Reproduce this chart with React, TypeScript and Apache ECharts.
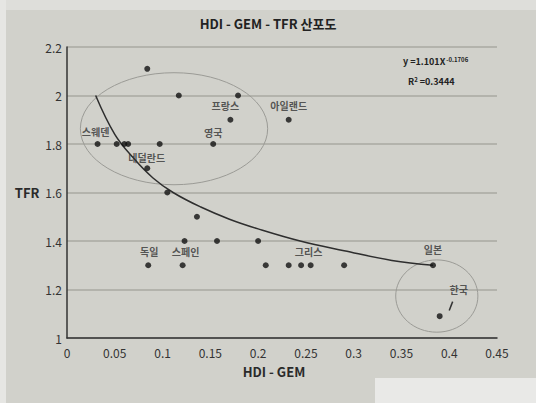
import React, { useEffect, useRef } from 'react';
import * as echarts from 'echarts';

// Scatter data: HDI - GEM (x) vs TFR (y)
const hdiGem = [0.084, 0.117, 0.179, 0.171, 0.232, 0.032, 0.052, 0.060, 0.064, 0.097, 0.153, 0.084, 0.105, 0.136, 0.123, 0.157, 0.200, 0.085, 0.121, 0.208, 0.232, 0.245, 0.255, 0.290, 0.383, 0.390];
const tfr = [2.11, 2.0, 2.0, 1.9, 1.9, 1.8, 1.8, 1.8, 1.8, 1.8, 1.8, 1.7, 1.6, 1.5, 1.4, 1.4, 1.4, 1.3, 1.3, 1.3, 1.3, 1.3, 1.3, 1.3, 1.3, 1.09];
const countryNames = ['', '', '', '프랑스', '아일랜드', '스웨덴', '', '', '', '네덜란드', '영국', '', '', '', '', '', '', '독일', '스페인', '', '', '', '그리스', '', '일본', '한국'];

// Trend curve
const trendX = [0.03, 0.05, 0.07, 0.09, 0.111, 0.14, 0.17, 0.2, 0.244, 0.29, 0.34, 0.383];
const trendY = [2.0, 1.84, 1.74, 1.66, 1.6, 1.54, 1.49, 1.45, 1.4, 1.36, 1.32, 1.3];

// Annotation ellipses (data coordinates): center x, center y, radius x, radius y
const ellipseCx = [0.112, 0.387];
const ellipseCy = [1.863, 1.173];
const ellipseRx = [0.098, 0.043];
const ellipseRy = [0.231, 0.149];

// Axis ticks
const xMin = 0, xMax = 0.45, xStep = 0.05;
const yMin = 1, yMax = 2.2, yStep = 0.2;

const titleText = 'HDI - GEM - TFR 산포도';
const xName = 'HDI - GEM';
const yName = 'TFR';
const eqCoef = '1.101';
const eqExp = '-0.1706';
const rSquared = '0.3444';

const labelOffsets: Record<string, number[]> = {
  '프랑스': [-5, -14],
  '아일랜드': [0, -14],
  '스웨덴': [-2, -13],
  '네덜란드': [-13, 13],
  '영국': [0, -12],
  '독일': [1, -14],
  '스페인': [3, -14],
  '그리스': [-2, -14],
  '일본': [0, -16],
  '한국': [19, -27],
};

const FONT = '"Noto Sans CJK KR", "Noto Sans", sans-serif';

export default function App() {
  const ref = useRef<HTMLDivElement>(null);
  useEffect(() => {
    document.body.style.margin = '0';
    const chart = echarts.init(ref.current!, null, { renderer: 'svg' });
    const points = hdiGem.map((x, i) => {
      const name = countryNames[i];
      const item: any = { value: [x, tfr[i]] };
      if (name) {
        item.label = {
          show: true,
          formatter: name,
          position: 'inside',
          offset: labelOffsets[name] || [0, -14],
          color: '#333',
          fontSize: 10,
          fontWeight: 'bold',
          fontFamily: FONT,
        };
      }
      return item;
    });
    const option: any = {
      animation: false,
      backgroundColor: '#d1d1cb',
      title: {
        text: titleText,
        left: 'center',
        top: 17,
        padding: [0, 8, 0, 0],
        textStyle: { fontSize: 13, fontWeight: 'bold', color: '#222', fontFamily: FONT },
      },
      grid: { left: 67, right: 39, top: 47, bottom: 65, containLabel: false },
      xAxis: {
        type: 'value',
        min: xMin,
        max: xMax,
        interval: xStep,
        name: xName,
        nameLocation: 'middle',
        nameGap: 27,
        nameTextStyle: { fontSize: 13, fontWeight: 'bold', color: '#2a2a2a', fontFamily: FONT, padding: [0, 16, 0, 0] },
        axisLine: { show: true, lineStyle: { color: '#333', width: 1.5 } },
        axisTick: { show: false },
        axisLabel: { fontSize: 12, color: '#333', margin: 8, fontFamily: FONT },
        splitLine: { show: false },
      },
      yAxis: {
        type: 'value',
        min: yMin,
        max: yMax,
        interval: yStep,
        name: yName,
        nameLocation: 'middle',
        nameRotate: 0,
        nameGap: 25,
        nameTextStyle: { fontSize: 13, fontWeight: 'bold', color: '#2a2a2a', fontFamily: FONT },
        axisLine: { show: true, lineStyle: { color: '#333', width: 1.5 } },
        axisTick: { show: false },
        axisLabel: { fontSize: 12, color: '#333', margin: 5, fontFamily: FONT },
        splitLine: { show: true, lineStyle: { color: '#a8a8a2', width: 1.5 } },
      },
      series: [
        {
          type: 'line',
          data: trendX.map((x, i) => [x, trendY[i]]),
          smooth: 0.4,
          showSymbol: false,
          symbol: 'none',
          lineStyle: { color: '#2e2e2e', width: 1.5 },
          z: 2,
          silent: true,
        },
        {
          type: 'scatter',
          data: points,
          symbolSize: 6,
          itemStyle: { color: '#111' },
          z: 3,
        },
      ],
    };
    chart.setOption(option);

    const px = (p: number[]) => chart.convertToPixel({ gridIndex: 0 }, p) as number[];
    const ellipses = ellipseCx.map((cx, i) => {
      const c = px([cx, ellipseCy[i]]);
      const r = px([cx + ellipseRx[i], ellipseCy[i] + ellipseRy[i]]);
      return {
        type: 'ellipse',
        shape: { cx: c[0], cy: c[1], rx: Math.abs(r[0] - c[0]), ry: Math.abs(r[1] - c[1]) },
        style: { fill: 'none', stroke: '#9b9b96', lineWidth: 1 },
        silent: true,
        z: 1,
      };
    });
    const a1 = px([0.4036, 1.15]);
    const a2 = px([0.4, 1.113]);
    chart.setOption({
      graphic: [
        { type: 'rect', shape: { x: 0, y: 0, width: 536, height: 10 }, style: { fill: '#dededa' }, silent: true, z: 0 },
        { type: 'rect', shape: { x: 0, y: 0, width: 6, height: 403 }, style: { fill: '#e6e6e3' }, silent: true, z: 0 },
        { type: 'rect', shape: { x: 375, y: 378, width: 161, height: 25 }, style: { fill: '#e9e9e7' }, silent: true, z: 0 },
        ...ellipses,
        {
          type: 'line',
          shape: { x1: a1[0], y1: a1[1], x2: a2[0], y2: a2[1] },
          style: { stroke: '#333', lineWidth: 1.5 },
          silent: true,
          z: 5,
        },
        {
          type: 'text',
          x: 403,
          y: 56,
          style: {
            text: `{n|y =${eqCoef}X}{s|${eqExp}}`,
            rich: {
              n: { fontSize: 9, fontWeight: 'bold', fill: '#222', fontFamily: FONT },
              s: { fontSize: 6, fontWeight: 'bold', fill: '#222', fontFamily: FONT, verticalAlign: 'top', padding: [0, 0, 5, 1] },
            },
          },
          silent: true,
          z: 5,
        },
        {
          type: 'text',
          x: 408,
          y: 76,
          style: {
            text: `{n|R}{s|2}{n| =${rSquared}}`,
            rich: {
              n: { fontSize: 9, fontWeight: 'bold', fill: '#222', fontFamily: FONT },
              s: { fontSize: 6, fontWeight: 'bold', fill: '#222', fontFamily: FONT, verticalAlign: 'top', padding: [0, 0, 5, 0] },
            },
          },
          silent: true,
          z: 5,
        },
      ],
    });
    return () => chart.dispose();
  }, []);
  return <div ref={ref} style={{ position: 'absolute', left: 0, top: 0, width: 536, height: 403 }} />;
}
